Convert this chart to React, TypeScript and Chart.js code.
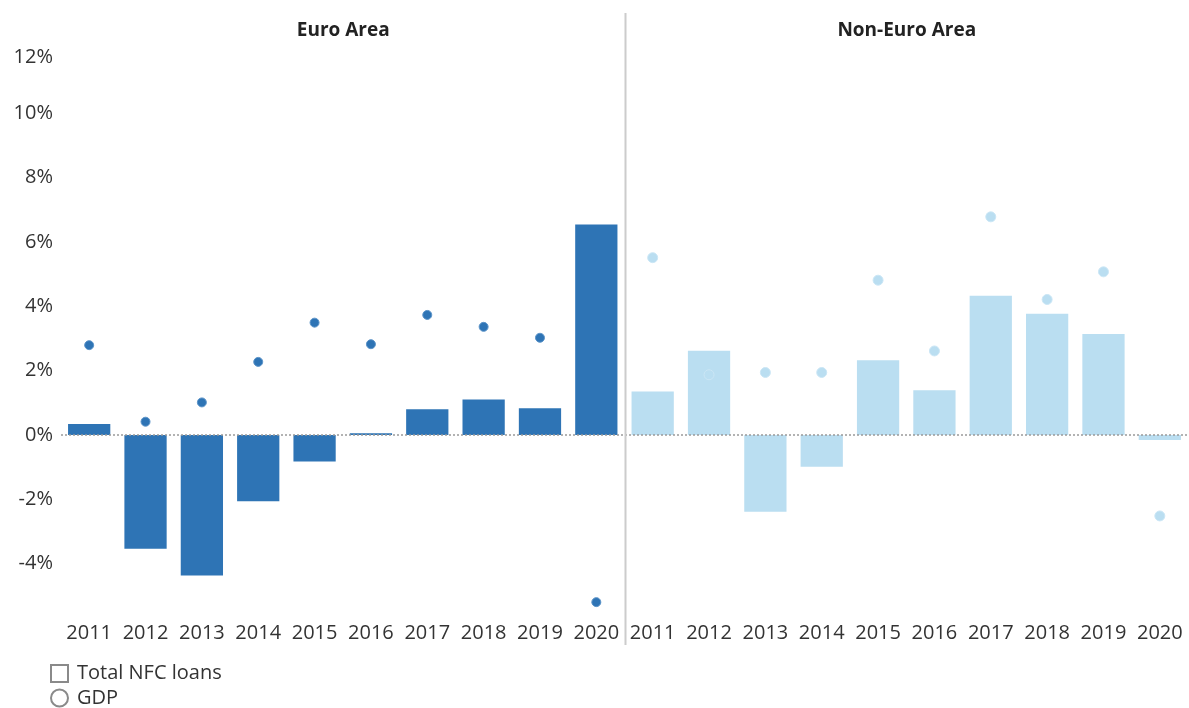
import React, { useEffect, useRef } from "react";
import { Chart, registerables } from "chart.js";

Chart.register(...registerables);

const years = ["2011", "2012", "2013", "2014", "2015", "2016", "2017", "2018", "2019", "2020"];
const panelTitles = ["Euro Area", "Non-Euro Area"];

const euroLoans = [0.34, -3.54, -4.37, -2.06, -0.83, 0.05, 0.8, 1.1, 0.83, 6.54];
const euroGdp = [2.79, 0.41, 1.01, 2.27, 3.49, 2.82, 3.73, 3.36, 3.02, -5.2];
const nonEuroLoans = [1.35, 2.62, -2.39, -0.99, 2.32, 1.39, 4.33, 3.77, 3.14, -0.16];
const nonEuroGdp = [5.51, 1.87, 1.94, 1.94, 4.81, 2.61, 6.78, 4.21, 5.07, -2.52];

const yTickValues = [-4, -2, 0, 2, 4, 6, 8, 10, 11.75];
const yTickLabels = ["-4%", "-2%", "0%", "2%", "4%", "6%", "8%", "10%", "12%"];
const legendLabels = ["Total NFC loans", "GDP"];

const DARK = "#2E74B5";
const LIGHT = "#BADEF1";
const FONT = "'Open Sans', 'Noto Sans', sans-serif";

const nulls = years.map(() => null);

const overlayPlugin = {
  id: "overlay",
  afterDatasetsDraw(chart: any) {
    const { ctx, chartArea, scales } = chart;
    const x = scales.x;
    const y = scales.y;
    ctx.save();
    // zero line
    const y0 = y.getPixelForValue(0);
    ctx.strokeStyle = "#9a9a9a";
    ctx.lineWidth = 1.5;
    ctx.setLineDash([2, 2]);
    ctx.beginPath();
    ctx.moveTo(chartArea.left, y0);
    ctx.lineTo(chart.width, y0);
    ctx.stroke();
    ctx.setLineDash([]);
    // divider
    const xd = (x.getPixelForValue(9) + x.getPixelForValue(10)) / 2 + 1;
    ctx.strokeStyle = "#cccccc";
    ctx.lineWidth = 2;
    ctx.beginPath();
    ctx.moveTo(xd, 13);
    ctx.lineTo(xd, 645);
    ctx.stroke();
    // titles
    ctx.fillStyle = "#222";
    ctx.font = `bold 19px ${FONT}`;
    ctx.textAlign = "center";
    ctx.textBaseline = "middle";
    ctx.fillText(panelTitles[0], (chartArea.left + xd) / 2, 31);
    ctx.fillText(panelTitles[1], (xd + chartArea.right) / 2, 31);
    // legend
    ctx.font = `20px ${FONT}`;
    ctx.textAlign = "left";
    ctx.fillStyle = "#333";
    ctx.strokeStyle = "#8a8a8a";
    ctx.lineWidth = 2;
    ctx.strokeRect(51, 665, 17, 17);
    ctx.fillText(legendLabels[0], 77, 673);
    ctx.beginPath();
    ctx.arc(59.5, 698, 8.5, 0, Math.PI * 2);
    ctx.stroke();
    ctx.fillText(legendLabels[1], 77, 698);
    ctx.restore();
  },
};

export default function App() {
  const ref = useRef<HTMLCanvasElement | null>(null);

  useEffect(() => {
    if (!ref.current) return;
    const labels = [...years, ...years];
    const chart = new Chart(ref.current, {
      type: "bar",
      data: {
        labels,
        datasets: [
          {
            type: "line",
            label: "GDP Euro",
            data: [...euroGdp, ...nulls],
            showLine: false,
            pointRadius: 4.5,
            pointBackgroundColor: DARK,
            pointBorderColor: "#5b93c8",
            pointBorderWidth: 1,
            order: 0,
          } as any,
          {
            type: "line",
            label: "GDP Non-Euro",
            data: [...nulls, ...nonEuroGdp],
            showLine: false,
            pointRadius: 5,
            pointBackgroundColor: LIGHT,
            pointBorderColor: "#cbe6f5",
            pointBorderWidth: 1,
            order: 0,
          } as any,
          {
            type: "bar",
            label: "Loans Euro",
            data: [...euroLoans, ...nulls],
            backgroundColor: DARK,
            grouped: false,
            categoryPercentage: 1,
            barPercentage: 0.75,
            order: 1,
          } as any,
          {
            type: "bar",
            label: "Loans Non-Euro",
            data: [...nulls, ...nonEuroLoans],
            backgroundColor: LIGHT,
            grouped: false,
            categoryPercentage: 1,
            barPercentage: 0.75,
            order: 1,
          } as any,
        ],
      },
      options: {
        animation: false,
        responsive: false,
        maintainAspectRatio: false,
        devicePixelRatio: 1,
        events: [],
        layout: { autoPadding: false, padding: { top: 57, bottom: 60, left: 0, right: 1 } },
        plugins: {
          legend: { display: false },
          tooltip: { enabled: false },
          title: { display: false },
        },
        scales: {
          x: {
            type: "category",
            grid: { display: false, drawTicks: false },
            border: { display: false },
            ticks: {
              color: "#333",
              font: { family: FONT, size: 20 },
              padding: 6,
              maxRotation: 0,
              autoSkip: false,
            },
            afterFit: (s: any) => {
              s.height = 33;
              s.paddingLeft = 0;
              s.paddingRight = 0;
            },
          },
          y: {
            type: "linear",
            min: -5.6,
            max: 11.75,
            grid: { display: false, drawTicks: false },
            border: { display: false },
            afterBuildTicks: (s: any) => {
              s.ticks = yTickValues.map((v) => ({ value: v }));
            },
            ticks: {
              color: "#333",
              font: { family: FONT, size: 20 },
              padding: 8,
              callback: (v: any) => {
                const i = yTickValues.indexOf(Number(v));
                return i >= 0 ? yTickLabels[i] : "";
              },
            },
            afterFit: (s: any) => {
              s.width = 61;
              s.paddingTop = 0;
              s.paddingBottom = 0;
            },
          },
        },
      },
      plugins: [overlayPlugin],
    });
    return () => chart.destroy();
  }, []);

  return (
    <div style={{ position: "fixed", left: 0, top: 0, width: 1189, height: 708, background: "#fff" }}>
      <canvas ref={ref} width={1189} height={708} style={{ display: "block" }} />
    </div>
  );
}
